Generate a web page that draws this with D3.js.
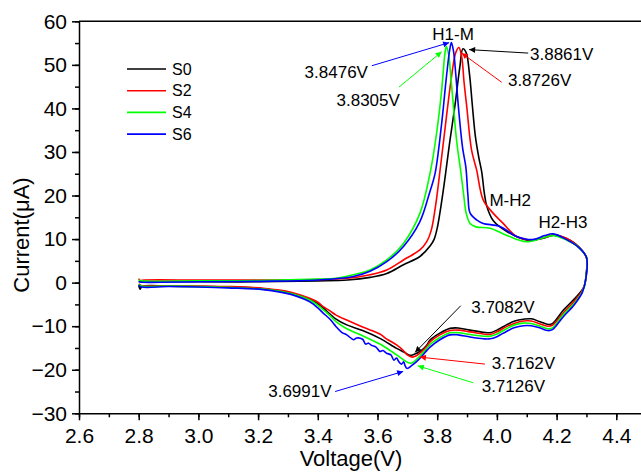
<!DOCTYPE html>
<html lang="en">
<head>
<meta charset="UTF-8">
<title>CV curves</title>
<script src="https://d3js.org/d3.v7.min.js"></script>
<style>
    body { margin: 0; background: #fff; }
    svg { font-family: Arial, "Liberation Sans", sans-serif; }
    .tick text { font-size: 21px; fill: #000; }
    .tick line, .domain { stroke: #000; stroke-width: 1.5px; }
    .anno { font-size: 17px; }
</style>
</head>
<body>
<svg id="chart"></svg>
<script>
    const width = 641, height = 475;

    // series names and colours
    const seriesNames = ["S0", "S2", "S4", "S6"];
    const seriesColors = ["#000000", "#ff0000", "#00ff00", "#0000ff"];

    // [voltage, current], anodic sweep 2.8 -> 4.3
    const s0Anodic = [[2.80,0.3],[2.81,0.2],[2.9,0.2],[3.0,0.2],[3.2,0.2],[3.4,0.4],[3.5,0.6],[3.575,1.2],[3.631,2.1],
        [3.687,4.1],[3.742,6.0],[3.776,8.4],[3.79,10.0],[3.80,12.5],[3.82,21.0],[3.843,32.8],[3.859,40.4],[3.876,49.6],
        [3.8861,53.7],[3.897,52.8],[3.908,48.0],[3.918,40.5],[3.928,33.5],[3.94,28.5],[3.949,25.5],[3.958,20.5],
        [3.966,17.6],[3.988,14.2],[4.032,11.8],[4.099,9.8],[4.155,10.2],[4.189,10.9],[4.223,10.4],[4.267,8.7],[4.30,5.8]];
    const s2Anodic = [[2.80,0.9],[2.805,0.5],[2.82,0.6],[3.0,0.6],[3.2,0.6],[3.4,0.7],[3.5,1.0],[3.575,1.8],[3.631,2.9],
        [3.687,5.2],[3.742,7.5],[3.765,9.4],[3.78,12.0],[3.794,17.4],[3.811,26.6],[3.831,38.1],[3.848,47.3],[3.862,52.8],
        [3.8726,54.0],[3.882,51.9],[3.890,46.0],[3.899,40.4],[3.915,30.5],[3.932,25.9],[3.954,19.0],[3.988,15.9],
        [4.021,13.6],[4.066,10.6],[4.122,9.8],[4.16,10.4],[4.189,10.9],[4.233,10.2],[4.267,8.6],[4.30,5.8]];
    const s4Anodic = [[2.80,0.6],[2.81,0.4],[3.0,0.4],[3.2,0.5],[3.4,0.8],[3.46,1.0],[3.519,1.8],[3.575,2.9],[3.631,5.2],
        [3.687,9.0],[3.742,15.9],[3.776,25.1],[3.798,34.3],[3.815,44.2],[3.826,52.7],[3.8305,54.2],[3.838,52.5],
        [3.846,47.0],[3.855,40.0],[3.866,32.0],[3.878,26.0],[3.889,20.0],[3.897,16.0],[3.91,13.6],[3.93,12.8],
        [3.977,12.5],[4.032,10.9],[4.099,9.4],[4.15,10.2],[4.189,10.8],[4.233,9.8],[4.27,8.3],[4.30,5.8]];
    const s6Anodic = [[2.80,0.2],[2.81,0.1],[3.0,0.2],[3.2,0.3],[3.4,0.6],[3.519,1.4],[3.575,2.6],[3.631,4.8],
        [3.687,8.3],[3.742,14.0],[3.776,21.0],[3.793,25.1],[3.815,36.6],[3.831,47.3],[3.842,53.5],[3.8476,55.1],
        [3.855,53.0],[3.862,48.0],[3.871,40.4],[3.885,31.0],[3.896,26.5],[3.903,20.0],[3.91,16.0],[3.932,14.4],
        [3.954,13.6],[4.01,12.9],[4.066,10.6],[4.122,9.9],[4.16,10.8],[4.189,11.2],[4.233,9.9],[4.27,8.3],[4.30,5.8]];

    // cathodic sweep 4.3 -> 2.8
    const s0Cathodic = [[4.299,2.0],[4.292,-0.9],[4.267,-3.2],[4.223,-6.3],[4.186,-9.4],[4.173,-9.6],[4.145,-9.0],
        [4.115,-8.3],[4.089,-8.4],[4.06,-8.8],[4.032,-9.7],[4.0,-10.9],[3.977,-11.5],[3.955,-11.4],[3.91,-10.9],
        [3.87,-10.4],[3.843,-10.5],[3.809,-11.6],[3.776,-13.2],[3.765,-14.4],[3.745,-15.7],[3.725,-16.4],[3.7082,-16.7],
        [3.69,-16.0],[3.664,-15.1],[3.608,-12.8],[3.55,-11.0],[3.497,-9.7],[3.46,-8.3],[3.441,-7.2],[3.418,-5.8],
        [3.40,-4.8],[3.373,-3.8],[3.31,-2.4],[3.217,-1.4],[3.1,-1.0],[3.0,-0.9],[2.9,-0.8],[2.81,-0.9],[2.805,-1.5],[2.80,-0.6]];
    const s2Cathodic = [[4.299,1.5],[4.29,-1.3],[4.265,-3.8],[4.223,-6.9],[4.186,-9.8],[4.17,-10.0],[4.145,-9.5],
        [4.115,-8.8],[4.089,-8.8],[4.06,-9.3],[4.032,-10.1],[4.0,-11.3],[3.977,-11.9],[3.955,-11.8],[3.91,-11.3],
        [3.87,-10.9],[3.843,-11.0],[3.809,-12.0],[3.776,-13.6],[3.765,-14.6],[3.745,-16.0],[3.73,-16.8],[3.7162,-17.1],
        [3.70,-16.6],[3.685,-15.5],[3.664,-14.3],[3.63,-12.9],[3.608,-11.8],[3.55,-10.2],[3.497,-8.6],[3.46,-7.4],
        [3.441,-6.5],[3.418,-5.5],[3.40,-4.5],[3.373,-3.6],[3.31,-2.2],[3.217,-1.3],[3.1,-0.9],[3.0,-0.8],[2.9,-0.7],
        [2.81,-0.7],[2.80,-0.3]];
    const s4Cathodic = [[4.298,1.0],[4.288,-1.8],[4.262,-4.5],[4.219,-7.6],[4.186,-10.4],[4.17,-10.6],[4.145,-10.0],
        [4.115,-9.4],[4.089,-9.3],[4.06,-9.7],[4.032,-10.6],[4.0,-11.8],[3.977,-12.3],[3.955,-12.3],[3.91,-11.9],
        [3.87,-11.5],[3.843,-11.5],[3.809,-12.6],[3.776,-14.2],[3.76,-15.5],[3.74,-17.0],[3.725,-18.0],[3.7126,-18.5],
        [3.70,-18.3],[3.685,-17.6],[3.664,-16.6],[3.63,-15.0],[3.608,-14.1],[3.55,-12.2],[3.497,-10.6],[3.46,-8.9],
        [3.441,-7.6],[3.418,-6.2],[3.40,-5.2],[3.373,-4.0],[3.31,-2.5],[3.217,-1.5],[3.1,-1.1],[3.0,-0.9],[2.9,-0.8],
        [2.81,-0.8],[2.80,-0.4]];
    const s6Cathodic = [[4.297,0.5],[4.286,-2.3],[4.26,-5.0],[4.219,-8.1],[4.186,-10.8],[4.17,-11.0],[4.145,-10.4],
        [4.115,-9.9],[4.089,-9.9],[4.06,-10.3],[4.032,-11.2],[4.0,-12.4],[3.977,-12.9],[3.955,-12.9],[3.91,-12.5],
        [3.87,-12.0],[3.843,-12.0],[3.809,-13.1],[3.776,-14.8],[3.76,-16.0],[3.745,-17.2],[3.73,-18.2],[3.715,-19.0],
        [3.6991,-19.7],[3.692,-19.0],[3.688,-18.2],[3.68,-18.7],[3.67,-18.0],[3.664,-17.3],[3.655,-17.8],[3.645,-16.6],
        [3.63,-16.2],[3.618,-15.6],[3.608,-15.8],[3.595,-14.8],[3.58,-14.4],[3.57,-13.9],[3.56,-14.1],[3.55,-13.0],
        [3.53,-12.7],[3.52,-13.1],[3.497,-12.0],[3.48,-11.4],[3.46,-10.0],[3.441,-8.4],[3.418,-7.0],[3.40,-5.8],
        [3.373,-4.4],[3.31,-2.7],[3.217,-1.6],[3.1,-1.2],[3.0,-1.0],[2.9,-0.9],[2.81,-1.0],[2.80,-0.6]];

    const loops = [s0Anodic.concat(s0Cathodic), s2Anodic.concat(s2Cathodic),
                   s4Anodic.concat(s4Cathodic), s6Anodic.concat(s6Cathodic)];

    // tick values
    const xTicks = [2.6, 2.8, 3.0, 3.2, 3.4, 3.6, 3.8, 4.0, 4.2, 4.4];
    const yTicks = [-30, -20, -10, 0, 10, 20, 30, 40, 50, 60];

    // peak annotations: text, where the text sits, arrow start, arrow tip (V, µA)
    const peakTexts = ["3.8861V", "3.8726V", "3.8476V", "3.8305V", "3.7082V", "3.7162V", "3.7126V", "3.6991V"];
    const peakTextPos = [[4.111,51.1],[4.037,45.1],[3.568,47.0],[3.675,40.6],[3.914,-7.0],[3.983,-19.8],[3.949,-25.0],[3.234,-26.2]];
    const peakArrowFrom = [[4.105,52.7],[4.016,46.0],[3.581,49.8],[3.672,44.9],[3.879,-5.3],[3.960,-18.7],[3.921,-23.0],[3.458,-25.0]];
    const peakArrowTo = [[3.907,53.5],[3.882,52.7],[3.840,55.1],[3.815,53.0],[3.726,-16.0],[3.742,-17.1],[3.735,-19.1],[3.686,-20.4]];
    const peakColorIdx = [0, 1, 3, 2, 0, 1, 2, 3];
    const phaseTexts = ["H1-M", "M-H2", "H2-H3"];
    const phasePos = [[3.853,55.7],[3.975,17.5],[4.139,12.6]];

    const x = d3.scaleLinear().domain([2.6, 4.5]).range([79, 79 + 1.9 * 298.5]);
    const y = d3.scaleLinear().domain([-30, 60]).range([413.3, 21.3]);

    const svg = d3.select("#chart").attr("width", width).attr("height", height);

    const defs = svg.append("defs");
    seriesColors.forEach(function (c, i) {
        defs.append("marker")
            .attr("id", "head" + i)
            .attr("viewBox", "0 0 10 10")
            .attr("refX", 10).attr("refY", 5)
            .attr("markerWidth", 9).attr("markerHeight", 6)
            .attr("markerUnits", "userSpaceOnUse")
            .attr("orient", "auto")
            .append("path").attr("d", "M0,0L10,5L0,10z").attr("fill", c);
    });

    // axes
    const xMinor = d3.range(2.6, 4.55, 0.1);
    const yMinor = d3.range(-30, 61, 5);

    svg.append("g").attr("transform", "translate(0," + y(-30) + ")")
        .call(d3.axisBottom(x).tickValues(xMinor).tickSize(4).tickFormat(""))
        .select(".domain").remove();
    svg.append("g").attr("transform", "translate(0," + y(-30) + ")")
        .call(d3.axisBottom(x).tickValues(xTicks).tickSize(7).tickSizeOuter(0).tickPadding(8).tickFormat(d3.format(".1f")));

    svg.append("g").attr("transform", "translate(" + x(2.6) + ",0)")
        .call(d3.axisLeft(y).tickValues(yMinor).tickSize(4).tickFormat(""))
        .select(".domain").remove();
    svg.append("g").attr("transform", "translate(" + x(2.6) + ",0)")
        .call(d3.axisLeft(y).tickValues(yTicks).tickSize(7).tickSizeOuter(0).tickPadding(5));

    // top frame line
    svg.append("line")
        .attr("x1", x(2.6)).attr("x2", x(4.5))
        .attr("y1", y(60)).attr("y2", y(60))
        .attr("stroke", "#000").attr("stroke-width", 1.5);

    // axis titles
    svg.append("text").attr("x", 351).attr("y", 466)
        .attr("text-anchor", "middle").attr("font-size", 22).text("Voltage(V)");
    svg.append("text").attr("transform", "translate(29,235) rotate(-90)")
        .attr("text-anchor", "middle").attr("font-size", 22).text("Current(\u03bcA)");

    // curves
    const line = d3.line()
        .x(function (d) { return x(d[0]); })
        .y(function (d) { return y(d[1]); })
        .curve(d3.curveCatmullRom.alpha(0.5));

    svg.append("g").selectAll("path")
        .data(loops)
        .enter().append("path")
        .attr("d", line)
        .attr("fill", "none")
        .attr("stroke", function (d, i) { return seriesColors[i]; })
        .attr("stroke-width", 1.6)
        .attr("stroke-linejoin", "round");

    // legend
    const legend = svg.append("g").attr("transform", "translate(127,69)");
    seriesNames.forEach(function (name, i) {
        const g = legend.append("g").attr("transform", "translate(0," + (i * 21.7) + ")");
        g.append("line").attr("x1", 0).attr("x2", 39).attr("y1", 0).attr("y2", 0)
            .attr("stroke", seriesColors[i]).attr("stroke-width", 1.6);
        g.append("text").attr("x", 45).attr("y", 0).attr("dy", "0.36em")
            .attr("font-size", 16).text(name);
    });

    // peak arrows and labels
    const anno = svg.append("g");
    peakTexts.forEach(function (t, i) {
        const ci = peakColorIdx[i];
        anno.append("line")
            .attr("x1", x(peakArrowFrom[i][0])).attr("y1", y(peakArrowFrom[i][1]))
            .attr("x2", x(peakArrowTo[i][0])).attr("y2", y(peakArrowTo[i][1]))
            .attr("stroke", seriesColors[ci]).attr("stroke-width", 1)
            .attr("marker-end", "url(#head" + ci + ")");
        const isLeft = (i === 2 || i === 3);
        anno.append("text").attr("class", "anno")
            .attr("x", x(peakTextPos[i][0])).attr("y", y(peakTextPos[i][1]))
            .attr("text-anchor", isLeft ? "end" : "start")
            .text(t);
    });
    phaseTexts.forEach(function (t, i) {
        anno.append("text").attr("class", "anno")
            .attr("x", x(phasePos[i][0])).attr("y", y(phasePos[i][1]))
            .attr("text-anchor", i === 0 ? "middle" : "start")
            .text(t);
    });
</script>
</body>
</html>
